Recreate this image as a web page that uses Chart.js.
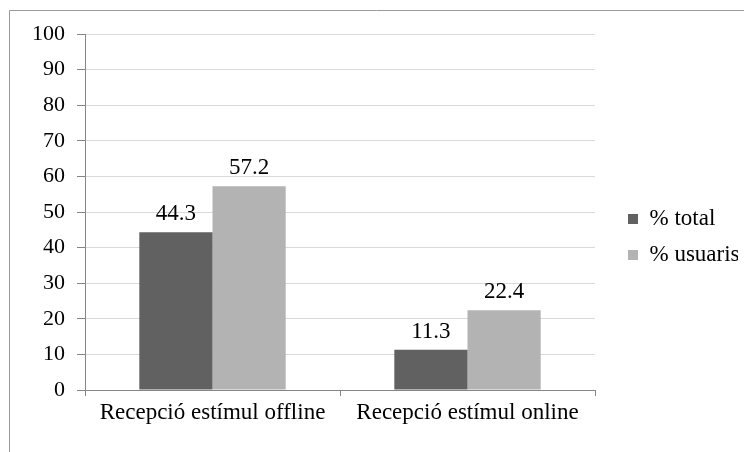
<!DOCTYPE html>
<html>
<head>
<meta charset="utf-8">
<script src="https://cdn.jsdelivr.net/npm/chart.js@4/dist/chart.umd.min.js"></script>
<style>
  html, body { margin: 0; padding: 0; background: #fff; }
  #wrap { width: 744px; height: 452px; }
</style>
</head>
<body>
<div id="wrap"><canvas id="chart" width="744" height="452"></canvas></div>
<script>
// dades
const categories = ['Recepció estímul offline', 'Recepció estímul online'];
const serieNames = ['% total', '% usuaris'];
const total = [44.3, 11.3];
const usuaris = [57.2, 22.4];
const yTicks = [0, 10, 20, 30, 40, 50, 60, 70, 80, 90, 100];

const fontFamily = '"Liberation Serif", "Times New Roman", serif';
const axisGray = '#868686';

// marc de la imatge + fons blanc
const frame = {
  id: 'frame',
  beforeDraw(chart) {
    const ctx = chart.ctx;
    ctx.save();
    ctx.fillStyle = '#fff';
    ctx.fillRect(0, 0, chart.width, chart.height);
    ctx.strokeStyle = '#9a9a9a';
    ctx.lineWidth = 1;
    ctx.beginPath();
    ctx.moveTo(9.5, chart.height);
    ctx.lineTo(9.5, 10.5);
    ctx.lineTo(chart.width, 10.5);
    ctx.stroke();
    ctx.restore();
  }
};

// etiquetes de valor damunt de les barres
const valueLabels = {
  id: 'valueLabels',
  afterDatasetsDraw(chart) {
    const ctx = chart.ctx;
    ctx.save();
    ctx.font = '23px ' + fontFamily;
    ctx.fillStyle = '#000';
    ctx.textAlign = 'center';
    ctx.textBaseline = 'alphabetic';
    chart.data.datasets.forEach((ds, i) => {
      chart.getDatasetMeta(i).data.forEach((bar, j) => {
        ctx.fillText(ds.data[j].toFixed(1), bar.x, bar.y - 12);
      });
    });
    ctx.restore();
  }
};

new Chart(document.getElementById('chart'), {
  type: 'bar',
  data: {
    labels: categories,
    datasets: [
      { label: serieNames[0], data: total, backgroundColor: '#616161', categoryPercentage: 0.574, barPercentage: 1.0 },
      { label: serieNames[1], data: usuaris, backgroundColor: '#b3b3b3', categoryPercentage: 0.574, barPercentage: 1.0 }
    ]
  },
  options: {
    responsive: false,
    animation: false,
    layout: { padding: { top: 22, left: 0, right: 6, bottom: 0 } },
    plugins: {
      tooltip: { enabled: false },
      legend: {
        position: 'right',
        labels: {
          boxWidth: 10,
          boxHeight: 10,
          padding: 13,
          color: '#000',
          font: { family: fontFamily, size: 23 }
        }
      }
    },
    scales: {
      x: {
        offset: true,
        grid: { drawOnChartArea: false, tickLength: 6, tickColor: axisGray, offset: true },
        border: { color: axisGray },
        ticks: { color: '#000', padding: 3, font: { family: fontFamily, size: 23 } },
        afterFit: s => { s.height = 62; }
      },
      xTop: {
        position: 'top',
        type: 'linear',
        axis: 'x',
        grid: { display: false },
        border: { display: false },
        ticks: { display: false },
        afterFit: s => { s.height = 12; }
      },
      y: {
        min: 0,
        max: 100,
        afterBuildTicks: s => { s.ticks = yTicks.map(v => ({ value: v })); },
        grid: { color: '#d9d9d9', tickLength: 8, tickColor: axisGray },
        border: { color: axisGray },
        ticks: { color: '#000', padding: 12, font: { family: fontFamily, size: 22 } },
        afterFit: s => { s.width = 85; }
      },
      yRight: {
        position: 'right',
        type: 'linear',
        grid: { display: false },
        border: { display: false },
        ticks: { display: false },
        afterFit: s => { s.width = 20; }
      }
    }
  },
  plugins: [frame, valueLabels]
});
</script>
</body>
</html>
